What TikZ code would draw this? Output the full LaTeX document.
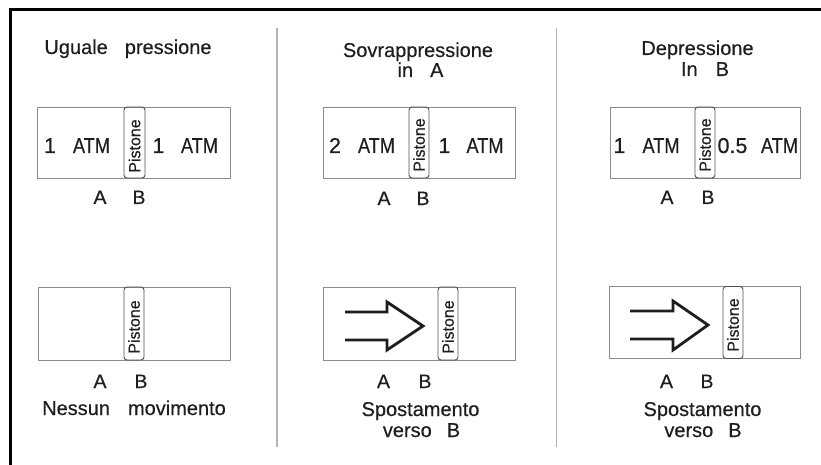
\documentclass[tikz,border=0pt]{standalone}
\usepackage{fontspec}
\setmainfont{Liberation Sans}[FakeBold=0.4]
\usepackage{graphicx}
\definecolor{boxgray}{HTML}{8C8C8C}
\definecolor{pisgray}{HTML}{505050}
\definecolor{divgray}{HTML}{B4B4B4}
\definecolor{ink}{HTML}{1E1E1E}
\tikzset{
  cyl/.style={draw=boxgray, line width=0.9pt, inner sep=0pt, outer sep=0pt},
  pist/.style={draw=pisgray, line width=0.9pt, rounded corners=3pt, inner sep=0pt, outer sep=0pt, minimum width=20pt},
  txt/.style={anchor=base, inner sep=0pt, outer sep=0pt, text=ink, font=\fontsize{20}{24}\selectfont},
  big/.style={txt, font=\fontsize{21.5}{24}\selectfont},
  lab/.style={txt, font=\fontsize{19.5}{22}\selectfont},
  ptxt/.style={rotate=90, inner sep=0pt, text=ink, font=\fontsize{16}{18}\selectfont},
  push/.style={draw=ink, line width=2.8pt, line join=miter, miter limit=10},
  divider/.style={draw=divgray, line width=1.4pt},
  frame/.style={draw=black, line width=3pt},
}
\newcommand{\atm}{\resizebox{37pt}{\height}{ATM}}
\begin{document}
\begin{tikzpicture}[x=1pt, y=-1pt]
\useasboundingbox[fill=white] (0,0) rectangle (821,465);

% frame and dividers
\draw[frame] (10,465) -- (10,10) -- (821,10);
\coordinate (d1t) at (277,28);   \coordinate (d1b) at (277,447);
\coordinate (d2t) at (556.5,28); \coordinate (d2b) at (556.5,447);
\draw[divider] (d1t) -- (d1b);
\draw[divider] (d2t) -- (d2b);

% ---------- panel 1 ----------
\node[txt] (t1) at (128,54) {Uguale\hspace*{17pt}pressione};
\node[cyl, minimum width=193pt, minimum height=71pt] (c1a) at (133.5,142.5) {};
\node[pist, minimum width=21pt, minimum height=71pt] (p1a) at (134.5,142.5) {};
\node[ptxt] (p1at) at (134.5,146) {Pistone};
\node[big] (n1a) at (50,153) {1};
\node[big] (m1a) at (91.5,153) {\atm};
\node[big] (n1b) at (158.5,153) {1};
\node[big] (m1b) at (199.5,153) {\atm};
\node[lab] (a1a) at (100,204) {A};
\node[lab] (b1a) at (139,204) {B};

\node[cyl, minimum width=192pt, minimum height=73pt] (c1b) at (134,323.5) {};
\node[pist, minimum height=73pt] (p1b) at (134,323.5) {};
\node[ptxt] (p1bt) at (134,327) {Pistone};
\node[lab] (a1b) at (100,388) {A};
\node[lab] (b1b) at (141,388) {B};
\node[txt] (s1) at (134,415) {Nessun\hspace*{18pt}movimento};

% ---------- panel 2 ----------
\node[txt] (t2) at (418,57) {Sovrappressione};
\node[txt] (t2b) at (420.5,77) {in\hspace*{17pt}A};
\node[cyl, minimum width=192pt, minimum height=71pt] (c2a) at (419,142.5) {};
\node[pist, minimum height=71pt] (p2a) at (419,142.5) {};
\node[ptxt] (p2at) at (419,145) {Pistone};
\node[big] (n2a) at (335,153) {2};
\node[big] (m2a) at (376.5,153) {\atm};
\node[big] (n2b) at (444.5,153) {1};
\node[big] (m2b) at (485,153) {\atm};
\node[lab] (a2a) at (384,205) {A};
\node[lab] (b2a) at (423,205) {B};

\node[cyl, minimum width=192pt, minimum height=73pt] (c2b) at (419,323.5) {};
\node[pist, minimum height=73pt] (p2b) at (448,323.5) {};
\node[ptxt] (p2bt) at (448,327) {Pistone};
\draw[push] (345,312) -- (387,312) -- (387,302) -- (423,326) -- (387,350) -- (387,340) -- (345,340);
\node[lab] (a2b) at (383.5,388) {A};
\node[lab] (b2b) at (425,388) {B};
\node[txt] (s2) at (420.5,416) {Spostamento};
\node[txt] (s2b) at (421.5,437) {verso\hspace*{15pt}B};

% ---------- panel 3 ----------
\node[txt] (t3) at (697.5,55) {Depressione};
\node[txt] (t3b) at (705,76) {In\hspace*{18pt}B};
\node[cyl, minimum width=190pt, minimum height=71pt] (c3a) at (705,142.5) {};
\node[pist, minimum height=71pt] (p3a) at (705,142.5) {};
\node[ptxt] (p3at) at (705,145) {Pistone};
\node[big] (n3a) at (619.5,153) {1};
\node[big] (m3a) at (661,153) {\atm};
\node[big] (n3b) at (732.5,153) {0.5};
\node[big] (m3b) at (779.5,153) {\atm};
\node[lab] (a3a) at (667,204) {A};
\node[lab] (b3a) at (708,204) {B};

\node[cyl, minimum width=191pt, minimum height=72pt] (c3b) at (704.5,322.5) {};
\node[pist, minimum height=72pt] (p3b) at (733,322.5) {};
\node[ptxt] (p3bt) at (733,325) {Pistone};
\draw[push] (630,311) -- (673,311) -- (673,301) -- (708,325) -- (673,350) -- (673,339) -- (630,339);
\node[lab] (a3b) at (666.5,388) {A};
\node[lab] (b3b) at (707,388) {B};
\node[txt] (s3) at (702.5,416) {Spostamento};
\node[txt] (s3b) at (703,437) {verso\hspace*{15pt}B};
\end{tikzpicture}
\end{document}
